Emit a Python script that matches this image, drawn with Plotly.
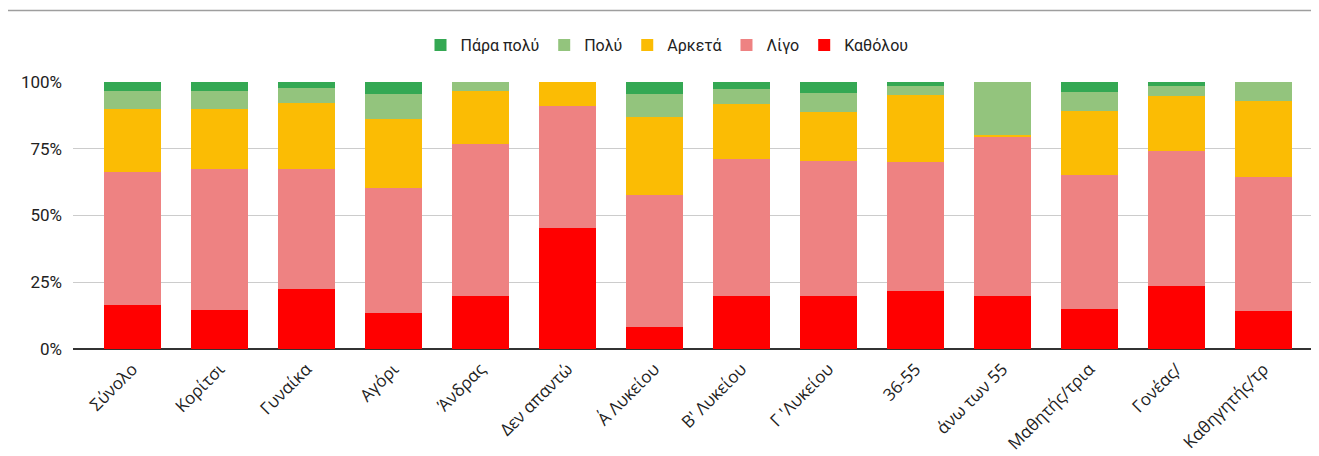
import plotly.graph_objects as go

categories = ['Σύνολο', 'Κορίτσι', 'Γυναίκα', 'Αγόρι', 'Άνδρας', 'Δεν απαντώ', 'Α\u0384 Λυκείου',
              'Β\' Λυκείου', 'Γ \'Λυκείου', '36-55', 'άνω των 55', 'Μαθητής/τρια', 'Γονέας/',
              'Καθηγητής/τρ']

# percentages per answer, bottom of the stack first
katholou = [16.6, 14.7, 22.6, 13.6, 20.0, 45.45, 8.1, 19.9, 19.9, 21.9, 20.0, 15.1, 23.7, 14.3]
ligo = [49.7, 52.7, 44.8, 46.7, 56.67, 45.45, 49.4, 51.3, 50.5, 48.2, 59.6, 50.1, 50.5, 50.0]
arketa = [23.6, 22.5, 24.7, 25.9, 20.0, 9.1, 29.4, 20.7, 18.5, 25.0, 0.4, 23.9, 20.7, 28.6]
poly = [6.7, 6.7, 5.8, 9.2, 3.33, 0, 8.5, 5.4, 7.1, 3.5, 20.0, 7.2, 3.6, 7.1]
para_poly = [3.4, 3.4, 2.1, 4.6, 0, 0, 4.6, 2.7, 4.0, 1.4, 0, 3.7, 1.5, 0]

y_ticks = [0, 25, 50, 75, 100]
y_tick_labels = ['0%', '25%', '50%', '75%', '100%']

series = [
    ('Καθόλου', katholou, '#ff0000'),
    ('Λίγο', ligo, '#ee8282'),
    ('Αρκετά', arketa, '#fbbc04'),
    ('Πολύ', poly, '#93c47d'),
    ('Πάρα πολύ', para_poly, '#34a853'),
]

fig = go.Figure()
for name, values, color in series:
    fig.add_trace(go.Bar(x=categories, y=values, name=name, marker_color=color,
                         marker_line_width=0))

# page body adds an 8px offset, so the figure is laid out 8px smaller
off = 8
W, H = 1319 - off, 456 - off
ml, mt = 73 - off, 82 - off
mb = H - (349 - off)
plot_w = W - ml
plot_h = H - mt - mb

fig.update_layout(
    width=W, height=H,
    barmode='stack',
    bargap=0.345,
    plot_bgcolor='white',
    paper_bgcolor='white',
    margin=dict(l=ml, r=0, t=mt, b=mb, autoexpand=False),
    font=dict(family='Roboto, Arial, sans-serif', size=16, color='#222222'),
    legend=dict(orientation='h', x=(667 - 73) / plot_w, xanchor='center',
                y=(349 - 45) / plot_h, yanchor='middle',
                traceorder='reversed', font=dict(size=16, color='#222222'),
                itemwidth=30),
    showlegend=True,
)

fig.update_xaxes(range=[-0.684, 13.638], tickangle=-45, showgrid=False,
                 tickfont=dict(family='Open Sans, sans-serif', size=17, color='#222222'),
                 ticklabelstandoff=6, showline=False)
fig.update_yaxes(range=[0, 100], tickvals=y_ticks, ticktext=y_tick_labels,
                 showgrid=True, gridcolor='#cccccc', gridwidth=1,
                 zeroline=True, zerolinecolor='#333333', zerolinewidth=1.5,
                 ticklabelstandoff=10, tickfont=dict(size=17, color='#222222'))

# thin frame line at the top of the page
top_y = (349 - 10.5) / plot_h
fig.add_shape(type='line', xref='paper', yref='paper',
              x0=-ml / plot_w - 0.01, x1=1, y0=top_y, y1=top_y,
              line=dict(color='#9e9e9e', width=1.5))

fig.write_html("out.html")
